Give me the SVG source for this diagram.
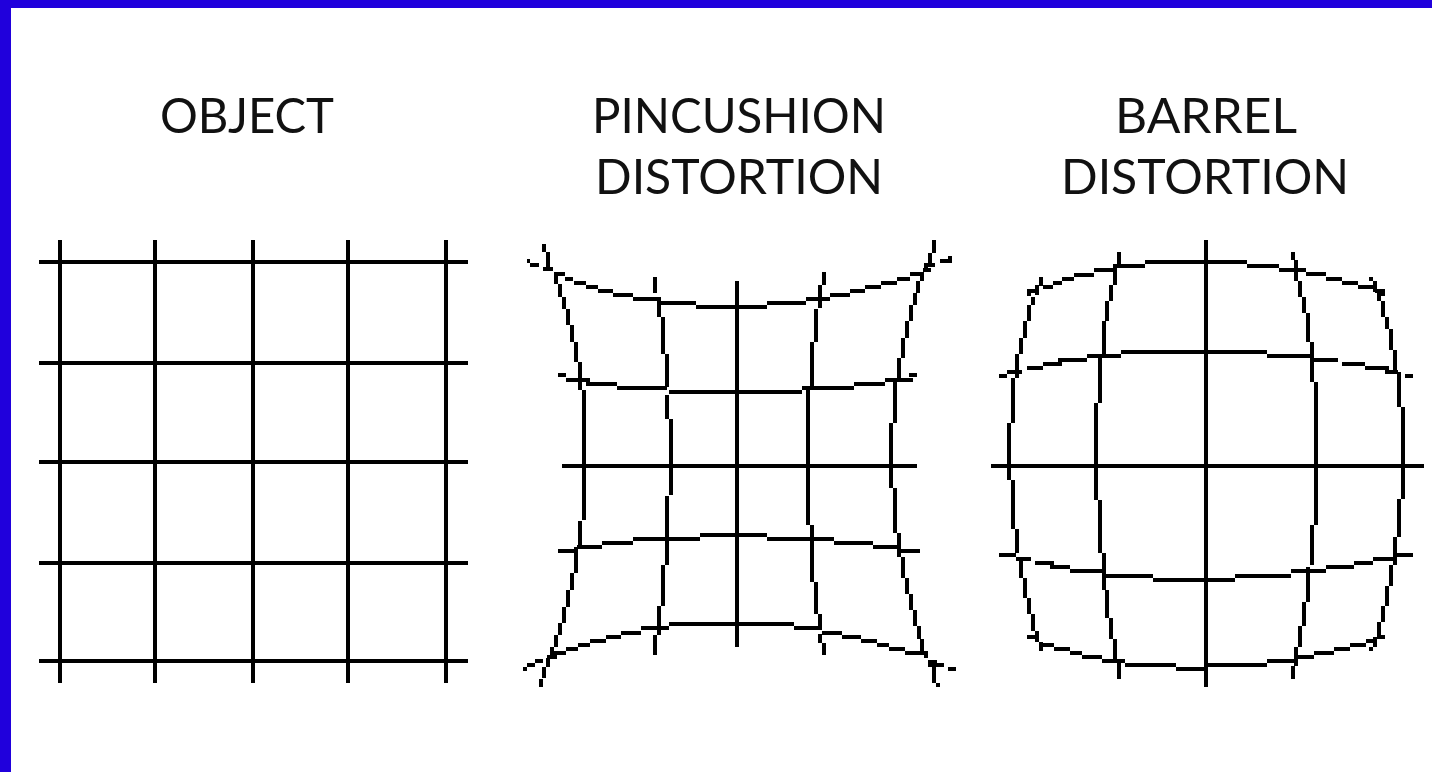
<svg xmlns="http://www.w3.org/2000/svg" width="1432" height="772" viewBox="0 0 1432 772">
<style>
.t{font-family:"Lato","Open Sans","Liberation Sans",sans-serif;font-size:49px;fill:#111;text-anchor:start}
.g{fill:none;stroke:#000;stroke-width:4;shape-rendering:crispEdges}
.z{fill:none;stroke:#000;stroke-width:12;shape-rendering:crispEdges}
</style>
<rect width="1432" height="772" fill="#fff"/>
<path d="M0 0H1432V8H11V772H0Z" fill="#2000dc"/>
<g id="object">
<text class="t" x="160" y="133" textLength="174" lengthAdjust="spacingAndGlyphs">OBJECT</text>
<path class="g" d="M60 240V683M155 240V683M253 240V683M348 240V683M446 240V683M39 262H468M39 363H468M39 462H468M39 563H468M39 661H468"/>
</g>
<g id="pincushion">
<text class="t" x="592" y="133" textLength="294" lengthAdjust="spacingAndGlyphs">PINCUSHION</text>
<text class="t" x="595" y="194" textLength="288" lengthAdjust="spacingAndGlyphs">DISTORTION</text>
<path class="z" transform="translate(510 230) scale(.33333)" d="M681 153V1250M156 708H1221
M52 94H60M60 106H87M100 118H130M135 132H165M165 146H190M192 158H228M228 170H264M264 182H308M308 194H370M370 207H447M447 218H558M558 230H770M770 218H888M888 207H960M960 194H1020M1020 182H1065M1065 170H1113M1113 158H1161M1161 146H1200M1200 132H1240M1240 120H1262M1250 106H1275M1290 94H1325M1315 85H1325
M145 436H167M167 450H240M228 462H320M320 474H470M477 487H876M876 474H1032M1032 462H1125M1125 450H1210M1197 436H1220
M144 962H200M200 950H276M276 938H370M370 926H570M570 914H770M770 926H972M972 938H1088M1088 950H1170M1170 962H1230
M40 1317H50M50 1305H75M75 1293H100M112 1280H140M120 1268H168M168 1256H205M205 1244H240M240 1232H288M288 1220H333M333 1208H393M393 1195H477M477 1182H852M852 1194H935M935 1208H995M995 1220H1052M1052 1232H1100M1100 1244H1137M1137 1256H1185M1185 1268H1250M1255 1296H1280M1255 1304H1302M1315 1317H1337
M103 42V66M115 66V118M139 126V162M151 162V200M163 200V238M175 238V286M187 286V336M199 336V396M211 396V480M222 480V870M211 874V945M199 950V1030M187 1030V1080M175 1080V1130M163 1130V1178M151 1178V1215M139 1215V1250M127 1250V1285M115 1285V1310M103 1310V1345M93 1348V1370
M435 140V188M447 200V260M459 260V372M471 372V470M471 495V568M483 568V796M471 798V1004M459 1004V1128M447 1128V1215M435 1215V1275
M942 126V165M930 165V235M918 237V335M906 336V470M894 478V885M906 885V1055M918 1055V1152M930 1152V1200M930 1212V1240M942 1240V1275
M1272 30V68M1260 68V100M1248 100V125M1236 125V152M1224 152V188M1215 188V226M1203 226V272M1191 272V324M1179 324V384M1167 384V445M1155 445V578M1143 578V773M1155 773V908M1167 908V980M1179 980V1044M1191 1044V1092M1203 1092V1140M1215 1140V1188M1227 1188V1228M1236 1228V1262M1248 1262V1285M1272 1290V1360M1284 1360V1370"/>
</g>
<g id="barrel">
<text class="t" x="1115" y="133" textLength="182" lengthAdjust="spacingAndGlyphs">BARREL</text>
<text class="t" x="1061" y="194" textLength="288" lengthAdjust="spacingAndGlyphs">DISTORTION</text>
<path class="z" transform="translate(980 230) scale(.33333)" d="M678 30V1370M33 708H1332
M142 183H165M190 170H220M220 158H247M247 146H283M283 134H343M343 120H410M410 108H495M495 96H800M800 108H897M897 120H977M977 132H1037M1037 146H1087M1087 158H1135M1135 170H1185M1185 183H1215
M57 437H80M80 425H127M141 413H190M190 401H247M235 389H320M320 377H423M423 365H861M861 377H1000M1000 389H1073M1087 401H1155M1155 413H1228M1216 425H1255M1276 437H1299
M57 974H107M107 986H153M165 998H222M210 1010H270M270 1023H370M370 1037H520M520 1049H765M765 1037H933M933 1023H1037M1037 1010H1122M1122 998H1180M1180 986H1245M1245 974H1299
M142 1220H175M185 1244H222M222 1256H270M270 1268H305M305 1280H367M367 1292H435M435 1304H588M588 1316H680M680 1304H860M860 1292H950M950 1280H1002M1002 1268H1062M1062 1256H1110M1110 1244H1157M1157 1232H1190M1190 1220H1215
M183 142V168M171 165V195M148 180V198M159 200V225M147 225V272M135 272V324M123 324V372M111 372V444M99 444V578M87 578V750M99 750V896M111 896V970M123 985V1044M135 1044V1104M147 1104V1152M159 1152V1204M171 1204V1235M183 1235V1262
M417 66V102M405 102V164M393 164V212M381 212V272M371 272V372M359 380V520M347 520V810M359 810V968M371 968V1080M381 1080V1164M393 1164V1226M405 1226V1292M417 1292V1346
M939 66V90M948 90V152M960 152V200M972 200V248M984 248V336M996 336V456M1008 456V884M996 884V1004M984 1010V1116M972 1116V1188M960 1188V1250M948 1250V1308M939 1308V1346
M1173 142V154M1185 154V185M1209 180V198M1197 190V212M1209 212V262M1221 262V298M1233 298V360M1245 360V425M1257 425V530M1269 530V808M1257 808V920M1245 920V1004M1233 1004V1068M1221 1068V1128M1209 1128V1176M1197 1176V1220M1185 1220V1250M1173 1250V1262"/>
</g>
</svg>
